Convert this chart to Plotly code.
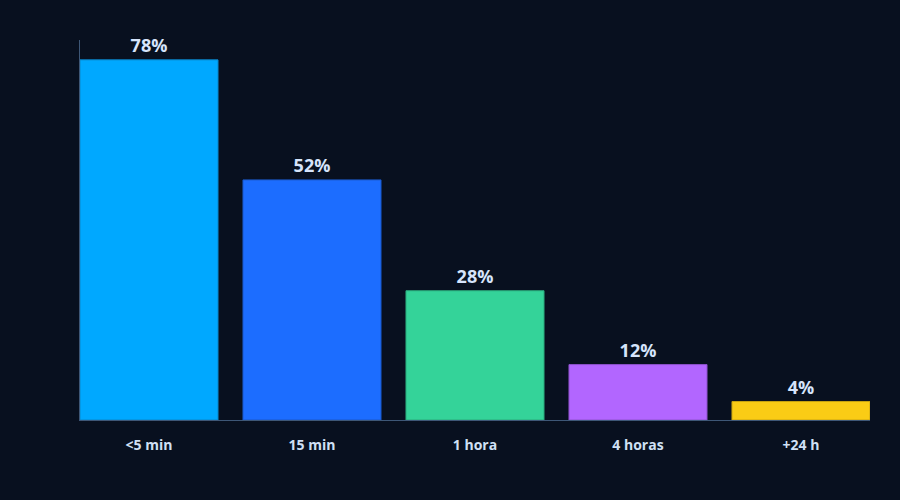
import plotly.graph_objects as go

categories = ["<5 min", "15 min", "1 hora", "4 horas", "+24 h"]
values = [78, 52, 28, 12, 4]
labels = ["78%", "52%", "28%", "12%", "4%"]
colors = ["#00a8ff", "#1c6dff", "#34d399", "#b266ff", "#facc15"]
borders = ["#0a86c8", "#1a58c8", "#2aa87a", "#8e52cc", "#c8a312"]

x = list(range(len(categories)))

fig = go.Figure(go.Bar(
    x=x, y=values, width=0.847,
    marker=dict(color=colors, line=dict(color=borders, width=1)),
    text=labels, textposition="outside", cliponaxis=False,
    textfont=dict(family="Open Sans", size=18, color="#d6e4fb", weight="bold"),
    hoverinfo="skip",
))

fig.update_layout(
    width=900, height=500,
    margin=dict(l=80, r=30, t=40, b=80),
    paper_bgcolor="#08101f", plot_bgcolor="#08101f",
    showlegend=False,
    xaxis=dict(
        range=[-0.4233, 4.4233], tickvals=x, ticktext=categories,
        showgrid=False, zeroline=False, showline=True, linecolor="#3e5777", linewidth=1,
        ticks="", ticklabelstandoff=12,
        tickfont=dict(family="Open Sans", size=14, color="#d0e0f5", weight="bold"),
    ),
    yaxis=dict(
        range=[0, 82.3], showgrid=False, zeroline=False, showline=True,
        linecolor="#3e5777", linewidth=1, showticklabels=False, ticks="",
    ),
)

fig.write_html("out.html")
